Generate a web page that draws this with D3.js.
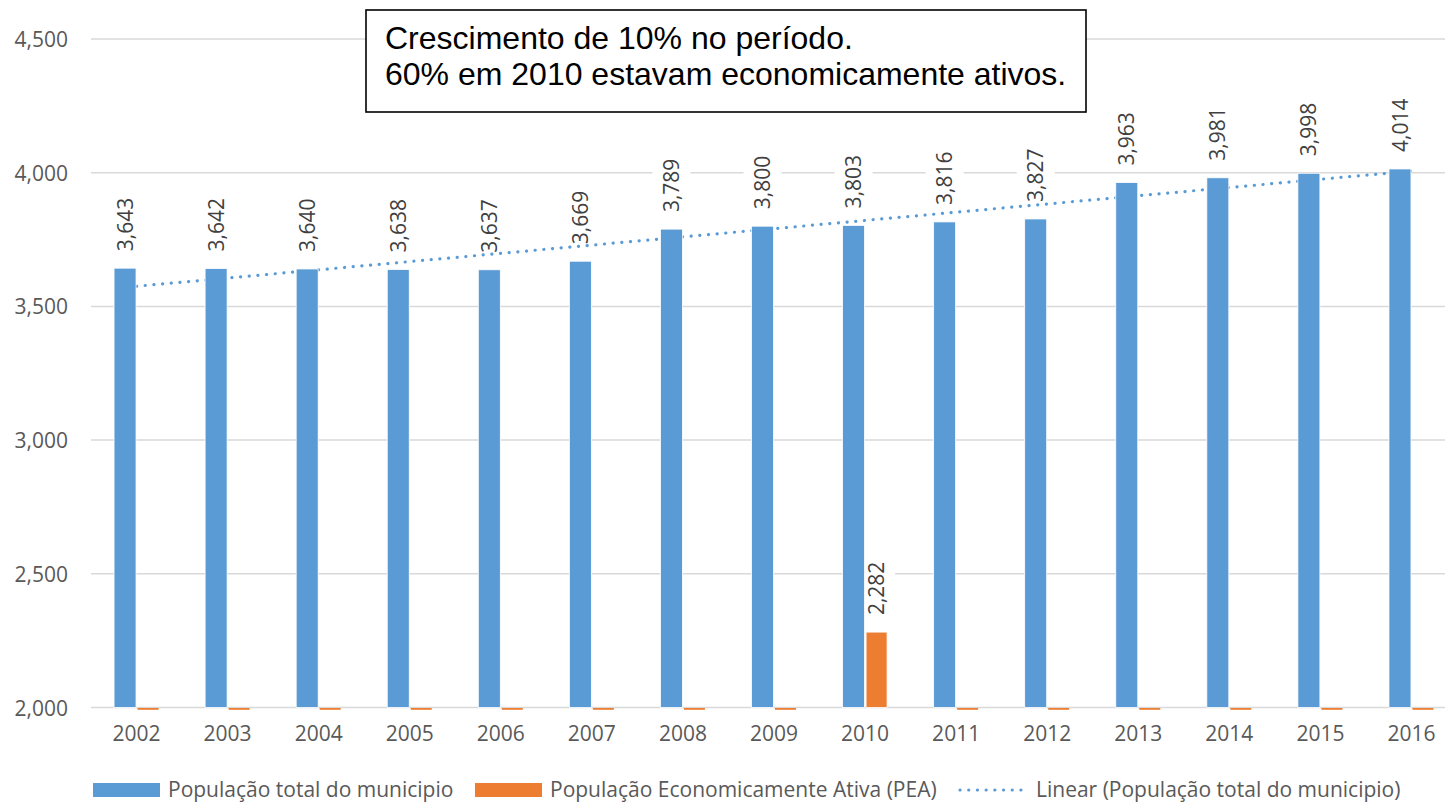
<!DOCTYPE html>
<html>
<head>
<meta charset="utf-8">
<script src="https://cdn.jsdelivr.net/npm/d3@7"></script>
<style>
  body { margin: 0; background: #fff; }
  svg { display: block; font-family: "Open Sans", "Segoe UI", sans-serif; }
</style>
</head>
<body>
<svg width="1445" height="804"></svg>
<script>
// data
var years = ["2002","2003","2004","2005","2006","2007","2008","2009","2010","2011","2012","2013","2014","2015","2016"];
var popTotal = [3643, 3642, 3640, 3638, 3637, 3669, 3789, 3800, 3803, 3816, 3827, 3963, 3981, 3998, 4014];
var popPEA = [0, 0, 0, 0, 0, 0, 0, 0, 2282, 0, 0, 0, 0, 0, 0];
var yTicks = [2000, 2500, 3000, 3500, 4000, 4500];
var seriesNames = ["População total do municipio", "População Economicamente Ativa (PEA)", "Linear (População total do municipio)"];
var noteLines = ["Crescimento de 10% no período.", "60% em 2010 estavam economicamente ativos."];

var blue = "#5b9bd5", orange = "#ed7d31";

var svg = d3.select("svg");

var x = d3.scaleBand().domain(years).range([91, 1457]);
var y = d3.scaleLinear().domain([2000, 4500]).range([707.5, 39]);
var cx = d => x(d) + x.bandwidth() / 2;
var barW = 22;

// gridlines
svg.append("g").selectAll("line").data(yTicks).enter().append("line")
    .attr("x1", 91).attr("x2", 1445)
    .attr("y1", d => y(d)).attr("y2", d => y(d))
    .attr("stroke", "#d9d9d9").attr("stroke-width", 1.5);

// y axis labels
var yAxis = svg.append("g").attr("transform", "translate(76,0)")
    .call(d3.axisLeft(y).tickValues(yTicks).tickFormat(d3.format(",")).tickSize(0).tickPadding(8));
yAxis.select(".domain").remove();
yAxis.selectAll("text").attr("font-size", 21).attr("fill", "#595959")
    .attr("font-family", "'Open Sans', sans-serif").attr("dy", "0.36em");

// x axis labels
var xAxis = svg.append("g").attr("transform", "translate(0,708)")
    .call(d3.axisBottom(x).tickSize(0).tickPadding(18));
xAxis.select(".domain").remove();
xAxis.selectAll("text").attr("font-size", 21).attr("fill", "#595959")
    .attr("font-family", "'Open Sans', sans-serif");

// label data
var labels = [];
years.forEach((yr, i) => {
    labels.push({ x: cx(yr) - 11.5, v: popTotal[i] });
    if (popPEA[i] > 2000) labels.push({ x: cx(yr) + 11, v: popPEA[i] });
});
var fmt = d3.format(",");

// white backgrounds behind labels (they break the gridlines)
svg.append("g").selectAll("rect").data(labels).enter().append("rect")
    .attr("x", d => d.x - 19).attr("width", 38)
    .attr("y", d => y(d.v) - 78).attr("height", 64)
    .attr("fill", "#fff");

// linear trend from least squares on popTotal
var mx = d3.mean(popTotal, (d, i) => i + 1), my = d3.mean(popTotal);
var sxy = d3.sum(popTotal, (d, i) => (i + 1 - mx) * (d - my));
var sxx = d3.sum(popTotal, (d, i) => (i + 1 - mx) * (i + 1 - mx));
var slope = sxy / sxx, icpt = my - slope * mx;
var trend = years.map((yr, i) => [cx(yr), y(icpt + slope * (i + 1))]);

svg.append("path").datum(trend)
    .attr("d", d3.line())
    .attr("fill", "none").attr("stroke", blue).attr("stroke-width", 3.2)
    .attr("stroke-linecap", "round").attr("stroke-dasharray", "0.1 8.6");

// bars
svg.append("g").selectAll("rect").data(popTotal).enter().append("rect")
    .attr("x", (d, i) => cx(years[i]) - barW - 0.5)
    .attr("width", barW)
    .attr("y", d => y(d))
    .attr("height", d => y(2000) - y(d))
    .attr("fill", blue).attr("stroke", "#fff").attr("stroke-width", 0.8);

svg.append("g").selectAll("rect").data(popPEA).enter().append("rect")
    .attr("x", (d, i) => cx(years[i]) + 1)
    .attr("width", barW - 1)
    .attr("y", d => d > 2000 ? y(d) : y(2000) + 0.5)
    .attr("height", d => d > 2000 ? y(2000) - y(d) : 1.8)
    .attr("fill", orange).attr("stroke", d => d > 2000 ? "#fff" : "none").attr("stroke-width", 0.8);

// data labels
svg.append("g").selectAll("text").data(labels).enter().append("text")
    .attr("transform", d => "translate(" + d.x + "," + (y(d.v) - 17) + ") rotate(-90)")
    .attr("dy", "0.36em")
    .attr("font-size", 21).attr("fill", "#404040")
    .text(d => fmt(d.v));

// annotation box
svg.append("rect").attr("x", 366).attr("y", 10).attr("width", 720).attr("height", 102)
    .attr("fill", "#fff").attr("stroke", "#000").attr("stroke-width", 1.6);
svg.append("g").selectAll("text").data(noteLines).enter().append("text")
    .attr("x", 385).attr("y", (d, i) => 49 + i * 36)
    .attr("font-family", "'Liberation Sans', Arial, sans-serif")
    .attr("font-size", 32).attr("fill", "#000")
    .text(d => d);

// legend
var leg = [
    { x: 93, type: "bar", color: blue, name: seriesNames[0] },
    { x: 475, type: "bar", color: orange, name: seriesNames[1] },
    { x: 958, type: "line", color: blue, name: seriesNames[2] }
];
var lg = svg.append("g").selectAll("g").data(leg).enter().append("g")
    .attr("transform", d => "translate(" + d.x + ",789)");
lg.filter(d => d.type == "bar").append("rect")
    .attr("x", 0).attr("y", -6).attr("width", 67).attr("height", 14)
    .attr("fill", d => d.color);
lg.filter(d => d.type == "line").append("line")
    .attr("x1", 2).attr("x2", 66).attr("y1", 1).attr("y2", 1)
    .attr("stroke", d => d.color).attr("stroke-width", 3.2)
    .attr("stroke-linecap", "round").attr("stroke-dasharray", "0.1 8.6");
lg.append("text")
    .attr("x", d => d.type == "bar" ? 75 : 78).attr("y", 0).attr("dy", "0.36em")
    .attr("font-size", 21).attr("fill", "#595959")
    .text(d => d.name);
</script>
</body>
</html>
